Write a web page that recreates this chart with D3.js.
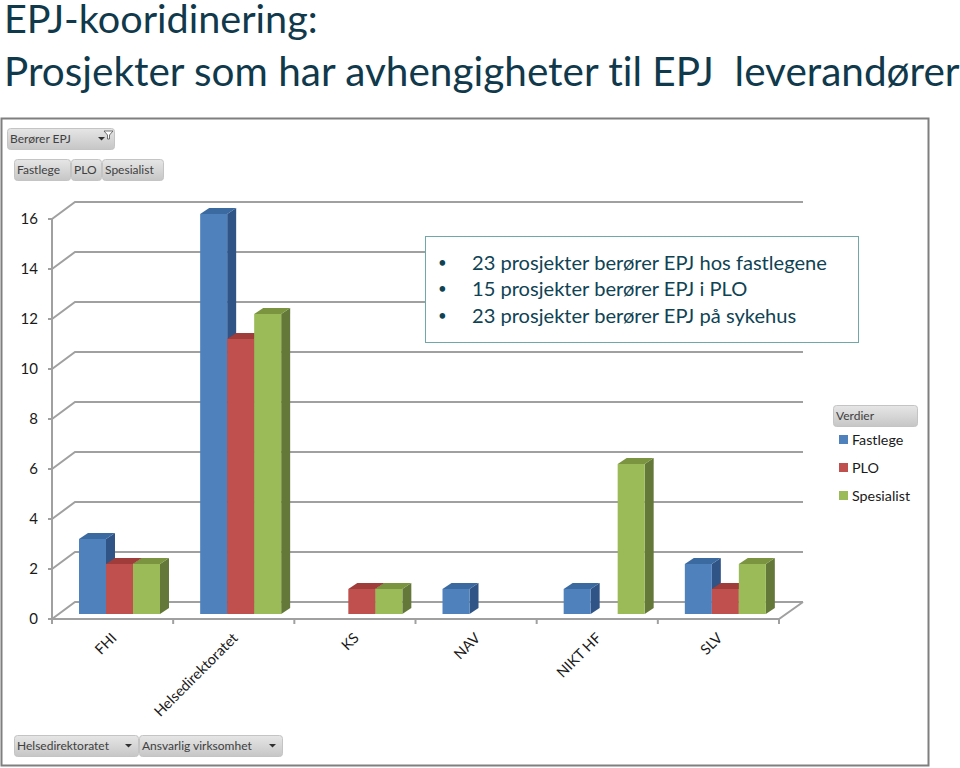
<!DOCTYPE html>
<meta charset="utf-8">
<style>
body { margin: 0; background: #fff; }
svg { display: block; font-family: Lato, sans-serif; font-variant-ligatures: none; }
.title { fill: #10394b; white-space: pre; }
.note { fill: #0f4354; font-size: 20.1px; }
.bullet { fill: #0f4354; font-size: 15px; }
.btn rect { fill: url(#btn); stroke: #c4c4c4; }
.btn text { fill: #404040; font-size: 12px; }
.tick-label { fill: #1a1a1a; font-size: 15px; }
.cat { fill: #1a1a1a; font-size: 14.5px; }
.legend text { fill: #1a1a1a; font-size: 14.3px; }
</style>
<body>
<svg width="960" height="768"></svg>
<script src="https://d3js.org/d3.v7.min.js"></script>
<script>
var categories = ["FHI", "Helsedirektoratet", "KS", "NAV", "NIKT HF", "SLV"];
var seriesNames = ["Fastlege", "PLO", "Spesialist"];
var fastlege = [3, 16, 0, 1, 1, 2];
var plo = [2, 11, 1, 0, 0, 1];
var spesialist = [2, 12, 1, 0, 6, 2];
var yTicks = [0, 2, 4, 6, 8, 10, 12, 14, 16];
var titleLines = ["EPJ-kooridinering:", "Prosjekter som har avhengigheter til EPJ  leverandører"];
var notes = ["23 prosjekter berører EPJ hos fastlegene", "15 prosjekter berører EPJ i PLO", "23 prosjekter berører EPJ på sykehus"];

var seriesValues = [fastlege, plo, spesialist];
var front = ["#4f81bd", "#c0504d", "#9bbb59"];
var topc = ["#3b6aa0", "#a03c39", "#7a9440"];
var side = ["#2f5485", "#8a3230", "#64783a"];

var svg = d3.select("svg");

// the wall sits behind the front axis by a fixed offset, like Excel's 3d columns
var wallDx = 23, wallDy = -17, depthX = 9, depthY = -6, floorGap = 5;

var x = d3.scaleBand().domain(categories).range([52, 779]);
var y = d3.scaleLinear().domain([0, 16]).range([619, 219]);
var inner = d3.scaleBand().domain(d3.range(3)).range([27, 27 + 81]);

var defs = svg.append("defs");
var grad = defs.append("linearGradient").attr("id", "btn")
    .attr("x1", 0).attr("y1", 0).attr("x2", 0).attr("y2", 1);
grad.append("stop").attr("offset", "0%").attr("stop-color", "#e6e6e6");
grad.append("stop").attr("offset", "100%").attr("stop-color", "#c6c6c6");

// titles
svg.selectAll(".title").data(titleLines).enter().append("text")
    .attr("class", "title")
    .attr("x", 4)
    .attr("y", function(d, i) { return 33 + i * 53; })
    .style("font-size", function(d, i) { return i ? "40.5px" : "39.6px"; })
    .text(function(d) { return d; });

// frame
svg.append("rect").attr("x", 1.5).attr("y", 118.5).attr("width", 927).attr("height", 647)
    .attr("fill", "#fff").attr("stroke", "#7f7f7f").attr("stroke-width", 2);

// back wall lines and the slanted bits going to the axis
var grid = svg.append("g").attr("stroke", "#a0a0a0").attr("stroke-width", 2).attr("fill", "none");
grid.selectAll(".wall").data(yTicks).enter().append("path")
    .attr("d", function(d) {
        var y0 = y(d);
        return "M" + x.range()[0] + "," + y0 + "L" + (x.range()[0] + wallDx) + "," + (y0 + wallDy) + "H803";
    });
grid.append("path").attr("d", "M52," + y(16) + "V" + y(0) + "H779L803," + (y(0) + wallDy));
grid.selectAll(".ytick").data(yTicks).enter().append("path")
    .attr("d", function(d) { return "M48," + y(d) + "H52"; });
var catEdges = categories.map(function(c) { return x(c); }).concat(x.range()[1]);
grid.selectAll(".xtick").data(catEdges).enter().append("path")
    .attr("d", function(d) { return "M" + d + "," + y(0) + "v5"; });

svg.selectAll(".tick-label").data(yTicks).enter().append("text")
    .attr("class", "tick-label")
    .attr("x", 38)
    .attr("y", function(d) { return y(d) + 5; })
    .attr("text-anchor", "end")
    .text(function(d) { return d; });

// bars
var bars = [];
categories.forEach(function(c, i) {
    seriesValues.forEach(function(vals, s) {
        if (vals[i] > 0) bars.push({ cat: c, s: s, v: vals[i] });
    });
});
var barG = svg.append("g");
var bar = barG.selectAll("g").data(bars).enter().append("g");
function bx(d) { return x(d.cat) + inner(d.s); }
function by(d) { return y(d.v) - floorGap; }
var bw = inner.bandwidth();
bar.append("path").attr("fill", function(d) { return side[d.s]; })
    .attr("d", function(d) {
        var r = bx(d) + bw;
        return "M" + r + "," + by(d) + "l" + depthX + "," + depthY + "V" + (y(0) - floorGap + depthY) + "l" + (-depthX) + "," + (-depthY) + "Z";
    });
bar.append("path").attr("fill", function(d) { return topc[d.s]; })
    .attr("d", function(d) {
        return "M" + bx(d) + "," + by(d) + "l" + depthX + "," + depthY + "h" + bw + "l" + (-depthX) + "," + (-depthY) + "Z";
    });
bar.append("rect").attr("fill", function(d) { return front[d.s]; })
    .attr("x", bx).attr("y", by).attr("width", bw)
    .attr("height", function(d) { return y(0) - y(d.v); });

// category labels
svg.selectAll(".cat").data(categories).enter().append("text")
    .attr("class", "cat")
    .attr("text-anchor", "end")
    .attr("transform", function(d) { return "translate(" + (x(d) + x.bandwidth() / 2 + 5) + ",639) rotate(-45)"; })
    .text(function(d) { return d; });

// note box
svg.append("rect").attr("x", 425.5).attr("y", 236.5).attr("width", 433).attr("height", 106)
    .attr("fill", "#fff").attr("stroke", "#6fa8a8");
var note = svg.selectAll(".note-row").data(notes).enter().append("g");
note.append("text").attr("class", "bullet").attr("x", 438).attr("y", function(d, i) { return 268 + i * 26.3; }).text("•");
note.append("text").attr("class", "note").attr("x", 472).attr("y", function(d, i) { return 270 + i * 26.3; }).text(function(d) { return d; });

// pivot buttons
function button(bxx, byy, w, h, label, arrowAt) {
    var g = svg.append("g").attr("class", "btn");
    g.append("rect").attr("x", bxx + 0.5).attr("y", byy + 0.5).attr("width", w).attr("height", h).attr("rx", 3);
    g.append("text").attr("x", bxx + 3).attr("y", byy + h / 2 + 4.5).text(label);
    if (arrowAt) {
        g.append("path").attr("fill", "#303030")
            .attr("d", "M" + arrowAt + "," + (byy + h / 2 - 1.5) + "h7l-3.5,3.5Z");
    }
}
button(7, 128, 107, 21, "Berører EPJ", 98);
svg.append("path").attr("fill", "#fff").attr("stroke", "#505050").attr("stroke-width", 0.8)
    .attr("d", "M104,131h9l-3.5,4v4h-2v-4Z");
button(14, 159, 56, 21, "Fastlege");
button(71, 159, 30, 21, "PLO");
button(102, 159, 61, 21, "Spesialist");
button(14, 735, 124, 21, "Helsedirektoratet", 125);
button(139, 735, 143, 21, "Ansvarlig virksomhet", 269);
button(833, 405, 84, 21, "Verdier");

// legend
var legendY = d3.scalePoint().domain(seriesNames).range([440, 496]);
var legend = svg.append("g").attr("class", "legend").selectAll("g").data(seriesNames).enter().append("g");
legend.append("rect").attr("x", 839).attr("width", 9).attr("height", 9)
    .attr("y", function(d) { return legendY(d) - 5; })
    .attr("fill", function(d, i) { return front[i]; });
legend.append("text").attr("x", 852)
    .attr("y", function(d) { return legendY(d) + 5; })
    .text(function(d) { return d; });
</script>
</body>
